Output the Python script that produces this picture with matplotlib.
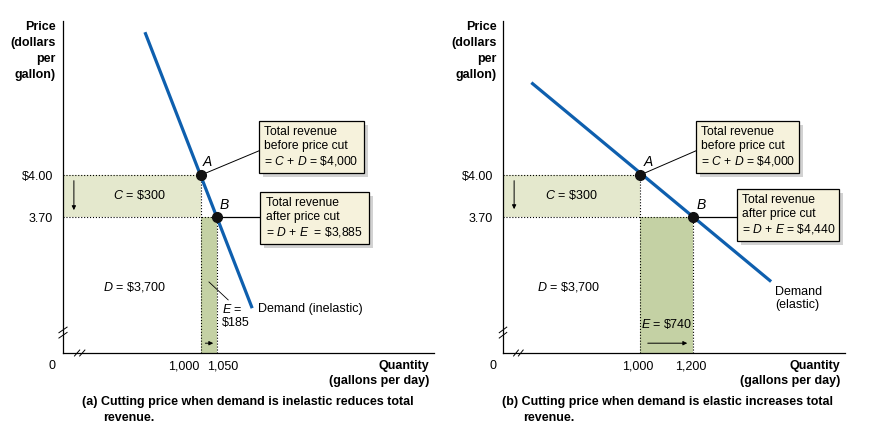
import matplotlib
matplotlib.use("Agg")
import matplotlib.pyplot as plt
from matplotlib.patches import Rectangle

plt.rcParams["font.family"] = ["Liberation Sans", "DejaVu Sans"]
plt.rcParams["mathtext.fontset"] = "custom"
plt.rcParams["mathtext.rm"] = "Liberation Sans"
plt.rcParams["mathtext.it"] = "Liberation Sans:italic"

# prices before / after the cut (same in both panels)
prices = [4.00, 3.70]
price_labels = ["\\$4.00", "3.70"]

# panel (a): inelastic demand
qty_a = [1000, 1050]
qty_a_labels = ["1,000", "1,050"]
demand_a_q = [825, 1160]
demand_a_p = [5.02, 3.05]

# panel (b): elastic demand
qty_b = [1000, 1200]
qty_b_labels = ["1,000", "1,200"]
demand_b_q = [590, 1495]
demand_b_p = [4.66, 3.24]

BLUE = "#0e5fae"
C_FILL = "#e4e8cd"
E_FILL = "#c4d1a4"
BOX_FILL = "#f6f2dc"
SHADOW = "#d2d2d2"
FS = 9


def panel(ax, q, dq, dp, xlim, ylim):
    ax.set_xlim(*xlim); ax.set_ylim(*ylim)
    for s in ("top", "right"):
        ax.spines[s].set_visible(False)
    for s in ("left", "bottom"):
        ax.spines[s].set_linewidth(0.9)
    ax.set_xticks([]); ax.set_yticks(prices)
    ax.set_yticklabels(price_labels, fontsize=FS)
    ax.tick_params(axis="y", length=0, pad=7)

    pA, pB = prices
    qA, qB = q
    # C region and E region
    ax.fill_between([xlim[0], qA], pB, pA, color=C_FILL, lw=0, zorder=1)
    ax.add_patch(Rectangle((qA, ylim[0]), qB - qA, pB - ylim[0],
                           fc=E_FILL, lw=0, zorder=1))
    # dotted guides
    ax.plot([xlim[0], qA], [pA, pA], ls=":", color="k", lw=0.8, zorder=2)
    ax.plot([xlim[0], qB], [pB, pB], ls=":", color="k", lw=0.8, zorder=2)
    ax.plot([qA, qA], [ylim[0], pA], ls=":", color="k", lw=0.8, zorder=2)
    ax.plot([qB, qB], [ylim[0], pB], ls=":", color="k", lw=0.8, zorder=2)

    ax.plot(dq, dp, color=BLUE, lw=2.3, solid_capstyle="butt", zorder=3)
    ax.plot(q, prices, "o", color="#111111", ms=7, zorder=5)

    # axis breaks
    for dy in (0.0, 0.016):
        ax.plot([-0.011, 0.011], [0.045 + dy, 0.062 + dy], color="k", lw=0.7,
                transform=ax.transAxes, clip_on=False)
    for dx in (0.0, 0.014):
        ax.plot([0.031 + dx, 0.045 + dx], [-0.009, 0.009], color="k", lw=0.7,
                transform=ax.transAxes, clip_on=False)

    ax.text(-0.019, -0.04, "0", transform=ax.transAxes, ha="right", va="center",
            fontsize=FS)
    ax.text(-0.019, 1.0, "Price\n(dollars\nper\ngallon)", transform=ax.transAxes,
            ha="right", va="top", fontsize=FS, fontweight="bold", linespacing=1.45)
    ax.text(0.987, -0.02, "Quantity\n(gallons per day)", transform=ax.transAxes,
            ha="right", va="top", fontsize=FS, fontweight="bold", linespacing=1.35)


def box(ax, x0, x1, y0, y1, txt, sx, sy):
    ax.add_patch(Rectangle((x0 + sx, y1 - sy), x1 - x0, y0 - y1, fc=SHADOW,
                           lw=0, zorder=6))
    ax.add_patch(Rectangle((x0, y1), x1 - x0, y0 - y1, fc=BOX_FILL, ec="k",
                           lw=0.9, zorder=7))
    ax.text(x0 + (x1 - x0) * 0.05, (y0 + y1) / 2, txt, ha="left", va="center",
            fontsize=FS - 0.3, linespacing=1.2, zorder=8)


fig = plt.figure(figsize=(8.72, 4.36), dpi=100)
ax1 = fig.add_axes([63 / 872, 83 / 436, 371 / 872, 332 / 436])
ax2 = fig.add_axes([503 / 872, 83 / 436, 342 / 872, 332 / 436])

# ---- panel (a)
xa, ya = (569, 1728), (2.73, 5.10)
panel(ax1, qty_a, demand_a_q, demand_a_p, xa, ya)
ax1.text(qty_a[0] - 6, -0.04, qty_a_labels[0], transform=ax1.get_xaxis_transform(),
         ha="right", va="center", fontsize=FS)
ax1.text(qty_a[1] - 31, -0.04, qty_a_labels[1], transform=ax1.get_xaxis_transform(),
         ha="left", va="center", fontsize=FS)
box(ax1, 1181, 1510, 4.387, 4.016,
    "Total revenue\nbefore price cut\n= $C$ + $D$ = \\$4,000", 12, 0.028)
box(ax1, 1185, 1525, 3.880, 3.509,
    "Total revenue\nafter price cut\n= $D$ + $E$  = \\$3,885", 12, 0.028)
ax1.plot([qty_a[0], 1181], [prices[0], 4.173], color="k", lw=0.7, zorder=4)
ax1.plot([qty_a[1], 1185], [prices[1], prices[1]], color="k", lw=0.9, zorder=4)
ax1.text(1019, 4.09, "A", fontsize=FS + 1, style="italic", ha="center", va="center")
ax1.text(1072, 3.787, "B", fontsize=FS + 1, style="italic", ha="center", va="center")
ax1.text(806, 3.859, "$C$ = \\$300", fontsize=FS, ha="center", va="center")
ax1.text(791, 3.20, "$D$ = \\$3,700", fontsize=FS, ha="center", va="center")
ax1.text(1066, 2.994, "$E$ =\n\\$185", fontsize=FS, ha="left", va="center",
         linespacing=1.2)
ax1.plot([1025, 1085], [3.237, 3.109], color="k", lw=0.6)
ax1.text(1178, 3.044, "Demand (inelastic)", fontsize=FS, ha="left", va="center")
ax1.annotate("", xy=(603, 3.73), xytext=(603, 3.98),
             arrowprops=dict(arrowstyle="-|>", color="k", lw=0.7, mutation_scale=6))
ax1.annotate("", xy=(1047, 2.80), xytext=(1005, 2.80),
             arrowprops=dict(arrowstyle="-|>", color="k", lw=0.7, mutation_scale=6))
ax1.text(0.051, -0.13, "(a) Cutting price when demand is inelastic reduces total",
         transform=ax1.transAxes, fontsize=FS, fontweight="bold", va="top")
ax1.text(0.108, -0.178, "revenue.", transform=ax1.transAxes, fontsize=FS,
         fontweight="bold", va="top")

# ---- panel (b)
xb, yb = (483, 1774), (2.73, 5.10)
panel(ax2, qty_b, demand_b_q, demand_b_p, xb, yb)
for qv, lab in zip(qty_b, qty_b_labels):
    ax2.text(qv - 8, -0.04, lab, transform=ax2.get_xaxis_transform(),
             ha="center", va="center", fontsize=FS)
box(ax2, 1211, 1600, 4.387, 4.016,
    "Total revenue\nbefore price cut\n= $C$ + $D$ = \\$4,000", 15, 0.028)
box(ax2, 1366, 1751, 3.901, 3.530,
    "Total revenue\nafter price cut\n= $D$ + $E$ = \\$4,440", 15, 0.028)
ax2.plot([qty_b[0], 1211], [prices[0], 4.173], color="k", lw=0.7, zorder=4)
ax2.plot([qty_b[1], 1366], [prices[1], prices[1]], color="k", lw=0.9, zorder=4)
ax2.text(1030, 4.094, "A", fontsize=FS + 1, style="italic", ha="center", va="center")
ax2.text(1230, 3.787, "B", fontsize=FS + 1, style="italic", ha="center", va="center")
ax2.text(740, 3.859, "$C$ = \\$300", fontsize=FS, ha="center", va="center")
ax2.text(732, 3.20, "$D$ = \\$3,700", fontsize=FS, ha="center", va="center")
ax2.text(1003, 2.937, "$E$ = \\$740", fontsize=FS, ha="left", va="center")
ax2.text(1509, 3.119, "Demand\n(elastic)", fontsize=FS, ha="left", va="center",
         linespacing=1.2)
ax2.annotate("", xy=(525, 3.737), xytext=(525, 3.98),
             arrowprops=dict(arrowstyle="-|>", color="k", lw=0.7, mutation_scale=6))
ax2.annotate("", xy=(1189, 2.80), xytext=(1019, 2.80),
             arrowprops=dict(arrowstyle="-|>", color="k", lw=0.7, mutation_scale=6))
ax2.text(-0.003, -0.13, "(b) Cutting price when demand is elastic increases total",
         transform=ax2.transAxes, fontsize=FS, fontweight="bold", va="top")
ax2.text(0.058, -0.178, "revenue.", transform=ax2.transAxes, fontsize=FS,
         fontweight="bold", va="top")

fig.savefig("out.png", dpi=100)
